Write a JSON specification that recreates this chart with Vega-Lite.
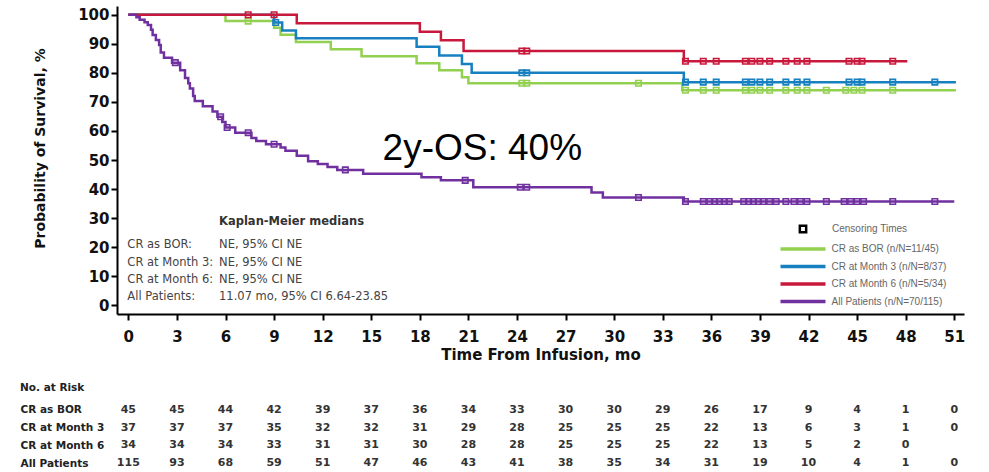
{
  "$schema": "https://vega.github.io/schema/vega-lite/v6.json",
  "padding": {"left": 20, "top": 6, "right": 5, "bottom": 0},
  "background": "white",
  "spacing": 20,
  "config": {"view": {"stroke": null}, "font": "DejaVu Sans", "axisY": {"labelOverlap": false}, "axisX": {"labelOverlap": false}},
  "datasets": {
    "curves": [
      {"g": "CR as BOR", "t": 0, "s": 100}, {"g": "CR as BOR", "t": 6.0, "s": 97.8}, {"g": "CR as BOR", "t": 9.0, "s": 95.5}, {"g": "CR as BOR", "t": 9.4, "s": 93.1}, {"g": "CR as BOR", "t": 10.35, "s": 90.6}, {"g": "CR as BOR", "t": 12.5, "s": 88.1}, {"g": "CR as BOR", "t": 14.4, "s": 85.7}, {"g": "CR as BOR", "t": 17.8, "s": 83.3}, {"g": "CR as BOR", "t": 19.2, "s": 80.9}, {"g": "CR as BOR", "t": 20.6, "s": 78.5}, {"g": "CR as BOR", "t": 21.0, "s": 76.4}, {"g": "CR as BOR", "t": 34.2, "s": 74.0}, {"g": "CR as BOR", "t": 51.1, "s": 74.0},
      {"g": "CR at Month 3", "t": 0, "s": 100}, {"g": "CR at Month 3", "t": 9.0, "s": 97.3}, {"g": "CR at Month 3", "t": 9.5, "s": 94.6}, {"g": "CR at Month 3", "t": 10.35, "s": 91.9}, {"g": "CR at Month 3", "t": 17.8, "s": 89.0}, {"g": "CR at Month 3", "t": 19.2, "s": 86.0}, {"g": "CR at Month 3", "t": 20.6, "s": 83.0}, {"g": "CR at Month 3", "t": 21.2, "s": 80.0}, {"g": "CR at Month 3", "t": 34.3, "s": 76.8}, {"g": "CR at Month 3", "t": 51.1, "s": 76.8},
      {"g": "CR at Month 6", "t": 0, "s": 100}, {"g": "CR at Month 6", "t": 10.4, "s": 97.1}, {"g": "CR at Month 6", "t": 18.0, "s": 94.1}, {"g": "CR at Month 6", "t": 19.3, "s": 91.2}, {"g": "CR at Month 6", "t": 20.7, "s": 87.5}, {"g": "CR at Month 6", "t": 34.3, "s": 84.0}, {"g": "CR at Month 6", "t": 48.1, "s": 84.0},
      {"g": "All Patients", "t": 0, "s": 100}, {"g": "All Patients", "t": 0.5, "s": 99.1}, {"g": "All Patients", "t": 0.7, "s": 98.3}, {"g": "All Patients", "t": 1.0, "s": 97.4}, {"g": "All Patients", "t": 1.2, "s": 96.5}, {"g": "All Patients", "t": 1.4, "s": 94.8}, {"g": "All Patients", "t": 1.5, "s": 93.0}, {"g": "All Patients", "t": 1.7, "s": 91.3}, {"g": "All Patients", "t": 1.9, "s": 89.6}, {"g": "All Patients", "t": 2.0, "s": 87.0}, {"g": "All Patients", "t": 2.2, "s": 85.2}, {"g": "All Patients", "t": 2.7, "s": 83.5}, {"g": "All Patients", "t": 3.2, "s": 80.9}, {"g": "All Patients", "t": 3.5, "s": 78.2}, {"g": "All Patients", "t": 3.7, "s": 76.4}, {"g": "All Patients", "t": 3.8, "s": 74.6}, {"g": "All Patients", "t": 4.0, "s": 72.0}, {"g": "All Patients", "t": 4.1, "s": 70.3}, {"g": "All Patients", "t": 4.6, "s": 68.5}, {"g": "All Patients", "t": 5.2, "s": 66.7}, {"g": "All Patients", "t": 5.5, "s": 64.9}, {"g": "All Patients", "t": 5.8, "s": 63.1}, {"g": "All Patients", "t": 6.0, "s": 61.2}, {"g": "All Patients", "t": 6.6, "s": 59.4}, {"g": "All Patients", "t": 7.6, "s": 57.6}, {"g": "All Patients", "t": 7.9, "s": 56.5}, {"g": "All Patients", "t": 8.5, "s": 55.4}, {"g": "All Patients", "t": 9.4, "s": 54.3}, {"g": "All Patients", "t": 9.7, "s": 53.2}, {"g": "All Patients", "t": 10.4, "s": 51.5}, {"g": "All Patients", "t": 11.1, "s": 49.6}, {"g": "All Patients", "t": 11.7, "s": 48.6}, {"g": "All Patients", "t": 12.3, "s": 47.6}, {"g": "All Patients", "t": 12.9, "s": 46.6}, {"g": "All Patients", "t": 14.5, "s": 45.3}, {"g": "All Patients", "t": 18.1, "s": 44.1}, {"g": "All Patients", "t": 19.3, "s": 43.0}, {"g": "All Patients", "t": 21.3, "s": 40.6}, {"g": "All Patients", "t": 28.6, "s": 38.8}, {"g": "All Patients", "t": 29.3, "s": 37.1}, {"g": "All Patients", "t": 34.3, "s": 35.7}, {"g": "All Patients", "t": 51.0, "s": 35.7}
    ],
    "censors": [
      {"g": "CR as BOR", "t": 7.4, "s": 97.8}, {"g": "CR as BOR", "t": 24.3, "s": 76.4}, {"g": "CR as BOR", "t": 24.6, "s": 76.4}, {"g": "CR as BOR", "t": 31.5, "s": 76.4}, {"g": "CR as BOR", "t": 34.4, "s": 74.0}, {"g": "CR as BOR", "t": 35.5, "s": 74.0}, {"g": "CR as BOR", "t": 36.3, "s": 74.0}, {"g": "CR as BOR", "t": 38.1, "s": 74.0}, {"g": "CR as BOR", "t": 38.5, "s": 74.0}, {"g": "CR as BOR", "t": 39.0, "s": 74.0}, {"g": "CR as BOR", "t": 39.6, "s": 74.0}, {"g": "CR as BOR", "t": 40.6, "s": 74.0}, {"g": "CR as BOR", "t": 41.3, "s": 74.0}, {"g": "CR as BOR", "t": 41.9, "s": 74.0}, {"g": "CR as BOR", "t": 43.1, "s": 74.0}, {"g": "CR as BOR", "t": 44.3, "s": 74.0}, {"g": "CR as BOR", "t": 44.8, "s": 74.0}, {"g": "CR as BOR", "t": 45.3, "s": 74.0}, {"g": "CR as BOR", "t": 47.2, "s": 74.0},
      {"g": "CR at Month 3", "t": 9.1, "s": 97.3}, {"g": "CR at Month 3", "t": 24.3, "s": 80.0}, {"g": "CR at Month 3", "t": 24.6, "s": 80.0}, {"g": "CR at Month 3", "t": 34.4, "s": 76.8}, {"g": "CR at Month 3", "t": 35.5, "s": 76.8}, {"g": "CR at Month 3", "t": 36.3, "s": 76.8}, {"g": "CR at Month 3", "t": 38.1, "s": 76.8}, {"g": "CR at Month 3", "t": 38.5, "s": 76.8}, {"g": "CR at Month 3", "t": 39.0, "s": 76.8}, {"g": "CR at Month 3", "t": 39.6, "s": 76.8}, {"g": "CR at Month 3", "t": 40.6, "s": 76.8}, {"g": "CR at Month 3", "t": 41.3, "s": 76.8}, {"g": "CR at Month 3", "t": 41.9, "s": 76.8}, {"g": "CR at Month 3", "t": 44.5, "s": 76.8}, {"g": "CR at Month 3", "t": 45.0, "s": 76.8}, {"g": "CR at Month 3", "t": 45.3, "s": 76.8}, {"g": "CR at Month 3", "t": 47.2, "s": 76.8}, {"g": "CR at Month 3", "t": 49.8, "s": 76.8},
      {"g": "CR at Month 6", "t": 7.4, "s": 100}, {"g": "CR at Month 6", "t": 9.0, "s": 100}, {"g": "CR at Month 6", "t": 24.3, "s": 87.5}, {"g": "CR at Month 6", "t": 24.6, "s": 87.5}, {"g": "CR at Month 6", "t": 34.4, "s": 84.0}, {"g": "CR at Month 6", "t": 35.5, "s": 84.0}, {"g": "CR at Month 6", "t": 36.3, "s": 84.0}, {"g": "CR at Month 6", "t": 38.1, "s": 84.0}, {"g": "CR at Month 6", "t": 38.5, "s": 84.0}, {"g": "CR at Month 6", "t": 39.0, "s": 84.0}, {"g": "CR at Month 6", "t": 39.6, "s": 84.0}, {"g": "CR at Month 6", "t": 40.6, "s": 84.0}, {"g": "CR at Month 6", "t": 41.3, "s": 84.0}, {"g": "CR at Month 6", "t": 41.9, "s": 84.0}, {"g": "CR at Month 6", "t": 44.5, "s": 84.0}, {"g": "CR at Month 6", "t": 45.0, "s": 84.0}, {"g": "CR at Month 6", "t": 45.3, "s": 84.0}, {"g": "CR at Month 6", "t": 47.2, "s": 84.0},
      {"g": "All Patients", "t": 2.9, "s": 83.5}, {"g": "All Patients", "t": 5.7, "s": 64.9}, {"g": "All Patients", "t": 6.1, "s": 61.2}, {"g": "All Patients", "t": 7.4, "s": 59.4}, {"g": "All Patients", "t": 9.0, "s": 55.4}, {"g": "All Patients", "t": 13.4, "s": 46.6}, {"g": "All Patients", "t": 20.8, "s": 43.0}, {"g": "All Patients", "t": 24.2, "s": 40.6}, {"g": "All Patients", "t": 24.6, "s": 40.6}, {"g": "All Patients", "t": 31.5, "s": 37.1}, {"g": "All Patients", "t": 34.4, "s": 35.7}, {"g": "All Patients", "t": 35.5, "s": 35.7}, {"g": "All Patients", "t": 35.9, "s": 35.7}, {"g": "All Patients", "t": 36.2, "s": 35.7}, {"g": "All Patients", "t": 36.5, "s": 35.7}, {"g": "All Patients", "t": 36.8, "s": 35.7}, {"g": "All Patients", "t": 37.1, "s": 35.7}, {"g": "All Patients", "t": 38.0, "s": 35.7}, {"g": "All Patients", "t": 38.3, "s": 35.7}, {"g": "All Patients", "t": 38.6, "s": 35.7}, {"g": "All Patients", "t": 38.9, "s": 35.7}, {"g": "All Patients", "t": 39.2, "s": 35.7}, {"g": "All Patients", "t": 39.6, "s": 35.7}, {"g": "All Patients", "t": 40.0, "s": 35.7}, {"g": "All Patients", "t": 40.6, "s": 35.7}, {"g": "All Patients", "t": 41.1, "s": 35.7}, {"g": "All Patients", "t": 41.5, "s": 35.7}, {"g": "All Patients", "t": 41.9, "s": 35.7}, {"g": "All Patients", "t": 43.1, "s": 35.7}, {"g": "All Patients", "t": 44.2, "s": 35.7}, {"g": "All Patients", "t": 44.6, "s": 35.7}, {"g": "All Patients", "t": 45.0, "s": 35.7}, {"g": "All Patients", "t": 45.4, "s": 35.7}, {"g": "All Patients", "t": 47.2, "s": 35.7}, {"g": "All Patients", "t": 49.8, "s": 35.7}
    ],
    "risk": [
      {"g": "CR as BOR", "t": 0, "n": 45}, {"g": "CR as BOR", "t": 3, "n": 45}, {"g": "CR as BOR", "t": 6, "n": 44}, {"g": "CR as BOR", "t": 9, "n": 42}, {"g": "CR as BOR", "t": 12, "n": 39}, {"g": "CR as BOR", "t": 15, "n": 37}, {"g": "CR as BOR", "t": 18, "n": 36}, {"g": "CR as BOR", "t": 21, "n": 34}, {"g": "CR as BOR", "t": 24, "n": 33}, {"g": "CR as BOR", "t": 27, "n": 30}, {"g": "CR as BOR", "t": 30, "n": 30}, {"g": "CR as BOR", "t": 33, "n": 29}, {"g": "CR as BOR", "t": 36, "n": 26}, {"g": "CR as BOR", "t": 39, "n": 17}, {"g": "CR as BOR", "t": 42, "n": 9}, {"g": "CR as BOR", "t": 45, "n": 4}, {"g": "CR as BOR", "t": 48, "n": 1}, {"g": "CR as BOR", "t": 51, "n": 0},
      {"g": "CR at Month 3", "t": 0, "n": 37}, {"g": "CR at Month 3", "t": 3, "n": 37}, {"g": "CR at Month 3", "t": 6, "n": 37}, {"g": "CR at Month 3", "t": 9, "n": 35}, {"g": "CR at Month 3", "t": 12, "n": 32}, {"g": "CR at Month 3", "t": 15, "n": 32}, {"g": "CR at Month 3", "t": 18, "n": 31}, {"g": "CR at Month 3", "t": 21, "n": 29}, {"g": "CR at Month 3", "t": 24, "n": 28}, {"g": "CR at Month 3", "t": 27, "n": 25}, {"g": "CR at Month 3", "t": 30, "n": 25}, {"g": "CR at Month 3", "t": 33, "n": 25}, {"g": "CR at Month 3", "t": 36, "n": 22}, {"g": "CR at Month 3", "t": 39, "n": 13}, {"g": "CR at Month 3", "t": 42, "n": 6}, {"g": "CR at Month 3", "t": 45, "n": 3}, {"g": "CR at Month 3", "t": 48, "n": 1}, {"g": "CR at Month 3", "t": 51, "n": 0},
      {"g": "CR at Month 6", "t": 0, "n": 34}, {"g": "CR at Month 6", "t": 3, "n": 34}, {"g": "CR at Month 6", "t": 6, "n": 34}, {"g": "CR at Month 6", "t": 9, "n": 33}, {"g": "CR at Month 6", "t": 12, "n": 31}, {"g": "CR at Month 6", "t": 15, "n": 31}, {"g": "CR at Month 6", "t": 18, "n": 30}, {"g": "CR at Month 6", "t": 21, "n": 28}, {"g": "CR at Month 6", "t": 24, "n": 28}, {"g": "CR at Month 6", "t": 27, "n": 25}, {"g": "CR at Month 6", "t": 30, "n": 25}, {"g": "CR at Month 6", "t": 33, "n": 25}, {"g": "CR at Month 6", "t": 36, "n": 22}, {"g": "CR at Month 6", "t": 39, "n": 13}, {"g": "CR at Month 6", "t": 42, "n": 5}, {"g": "CR at Month 6", "t": 45, "n": 2}, {"g": "CR at Month 6", "t": 48, "n": 0},
      {"g": "All Patients", "t": 0, "n": 115}, {"g": "All Patients", "t": 3, "n": 93}, {"g": "All Patients", "t": 6, "n": 68}, {"g": "All Patients", "t": 9, "n": 59}, {"g": "All Patients", "t": 12, "n": 51}, {"g": "All Patients", "t": 15, "n": 47}, {"g": "All Patients", "t": 18, "n": 46}, {"g": "All Patients", "t": 21, "n": 43}, {"g": "All Patients", "t": 24, "n": 41}, {"g": "All Patients", "t": 27, "n": 38}, {"g": "All Patients", "t": 30, "n": 35}, {"g": "All Patients", "t": 33, "n": 34}, {"g": "All Patients", "t": 36, "n": 31}, {"g": "All Patients", "t": 39, "n": 19}, {"g": "All Patients", "t": 42, "n": 10}, {"g": "All Patients", "t": 45, "n": 4}, {"g": "All Patients", "t": 48, "n": 1}, {"g": "All Patients", "t": 51, "n": 0}
    ]
  },
  "vconcat": [
    {
      "width": 847,
      "height": 308,
      "encoding": {
        "x": {"type": "quantitative", "scale": {"domain": [-0.7, 51.6], "nice": false, "zero": false},
          "axis": {"values": [0, 3, 6, 9, 12, 15, 18, 21, 24, 27, 30, 33, 36, 39, 42, 45, 48, 51], "title": "Time From Infusion, mo", "grid": false, "labelOverlap": false,
            "labelFont": "DejaVu Sans", "labelFontWeight": "bold", "labelFontSize": 15, "labelColor": "#111", "labelPadding": 9, "labelFlush": false,
            "titleFont": "DejaVu Sans", "titleFontWeight": "bold", "titleFontSize": 15, "titleColor": "#111", "titlePadding": 3,
            "domainColor": "#000", "domainWidth": 2, "tickColor": "#000", "tickWidth": 2, "tickSize": 6}},
        "y": {"type": "quantitative", "scale": {"domain": [-3, 103], "nice": false, "zero": false},
          "axis": {"values": [0, 10, 20, 30, 40, 50, 60, 70, 80, 90, 100], "tickCount": 11, "title": "Probability of Survival, %", "grid": false, "labelOverlap": false,
            "labelFont": "DejaVu Sans", "labelFontWeight": "bold", "labelFontSize": 15, "labelColor": "#111", "labelPadding": 2,
            "titleFont": "DejaVu Sans", "titleFontWeight": "bold", "titleFontSize": 14, "titleColor": "#111", "titlePadding": 30, "titleY": 142,
            "domainColor": "#000", "domainWidth": 2, "tickColor": "#000", "tickWidth": 2, "tickSize": 6}}
      },
      "layer": [
        {
          "data": {"name": "curves"},
          "mark": {"type": "line", "interpolate": "step-after", "strokeWidth": 2.5},
          "encoding": {
            "x": {"field": "t"},
            "y": {"field": "s"},
            "color": {"field": "g", "type": "nominal",
              "scale": {"domain": ["CR as BOR", "CR at Month 3", "CR at Month 6", "All Patients"], "range": ["#92d050", "#1680c0", "#c8193c", "#7030a0"]},
              "legend": {"orient": "none", "legendX": 679, "legendY": 236, "title": null, "padding": 0,
                "symbolType": "M-4.5,0H4.5", "symbolSize": 100, "symbolStrokeWidth": 3.5, "rowPadding": 3.5, "labelOffset": 21.5,
                "labelFont": "Liberation Sans", "labelFontSize": 10, "labelColor": "#666",
                "labelExpr": "datum.label == 'CR as BOR' ? 'CR as BOR  (n/N=11/45)' : datum.label == 'CR at Month 3' ? 'CR at Month 3  (n/N=8/37)' : datum.label == 'CR at Month 6' ? 'CR at Month 6  (n/N=5/34)' : 'All Patients  (n/N=70/115)'"}}
          }
        },
        {
          "data": {"name": "censors"},
          "mark": {"type": "point", "shape": "square", "filled": false, "size": 30, "strokeWidth": 1.6, "opacity": 1},
          "encoding": {
            "x": {"field": "t"},
            "y": {"field": "s"},
            "color": {"field": "g", "type": "nominal"},
            "shape": {"datum": "Censoring Times", "scale": {"range": ["square"]},
              "legend": {"orient": "none", "legendX": 681, "legendY": 218, "title": null, "padding": 0,
                "symbolSize": 40, "symbolStrokeColor": "#000", "symbolFillColor": "#fff", "symbolStrokeWidth": 2.5, "labelOffset": 24,
                "labelFont": "Liberation Sans", "labelFontSize": 10, "labelColor": "#666"}}
          }
        },
        {
          "data": {"values": [{"t": 15.7, "s": 50.0}]},
          "mark": {"type": "text", "text": "2y-OS: 40%", "font": "Liberation Sans", "fontSize": 37, "align": "left", "baseline": "alphabetic", "color": "#000"},
          "encoding": {"x": {"field": "t"}, "y": {"field": "s"}}
        },
        {
          "data": {"values": [{"t": 5.6, "s": 28.7}]},
          "mark": {"type": "text", "text": "Kaplan-Meier medians", "font": "DejaVu Sans", "fontWeight": "bold", "fontSize": 11.5, "align": "left", "baseline": "middle", "color": "#333"},
          "encoding": {"x": {"field": "t"}, "y": {"field": "s"}}
        },
        {
          "data": {"values": [{"t": -0.06, "s": 19.6}]},
          "mark": {"type": "text", "text": ["CR as BOR:", "CR at Month 3:", "CR at Month 6:", "All Patients:"], "lineHeight": 17.3, "font": "DejaVu Sans", "fontSize": 11.5, "align": "left", "baseline": "alphabetic", "color": "#444"},
          "encoding": {"x": {"field": "t"}, "y": {"field": "s"}}
        },
        {
          "data": {"values": [{"t": 5.6, "s": 19.6}]},
          "mark": {"type": "text", "text": ["NE, 95% CI NE", "NE, 95% CI NE", "NE, 95% CI NE", "11.07 mo, 95% CI 6.64-23.85"], "lineHeight": 17.3, "font": "DejaVu Sans", "fontSize": 11.5, "align": "left", "baseline": "alphabetic", "color": "#444"},
          "encoding": {"x": {"field": "t"}, "y": {"field": "s"}}
        }
      ]
    },
    {
      "width": 847,
      "height": 71,
      "data": {"name": "risk"},
      "title": {"text": "No. at Risk", "anchor": "start", "frame": "bounds", "font": "DejaVu Sans", "fontSize": 10.5, "fontWeight": "bold", "color": "#222", "offset": 8},
      "mark": {"type": "text", "font": "DejaVu Sans", "fontSize": 11, "fontWeight": "bold", "color": "#333"},
      "encoding": {
        "x": {"field": "t", "type": "quantitative", "scale": {"domain": [-0.7, 51.6], "nice": false, "zero": false}, "axis": null},
        "y": {"field": "g", "type": "nominal", "sort": ["CR as BOR", "CR at Month 3", "CR at Month 6", "All Patients"], "scale": {"type": "point", "padding": 0.5},
          "axis": {"title": null, "domain": false, "ticks": false, "labelAlign": "left", "labelPadding": 97, "labelFont": "DejaVu Sans", "labelFontSize": 10.5, "labelFontWeight": "bold", "labelColor": "#222"}},
        "text": {"field": "n", "type": "quantitative"}
      }
    }
  ]
}
